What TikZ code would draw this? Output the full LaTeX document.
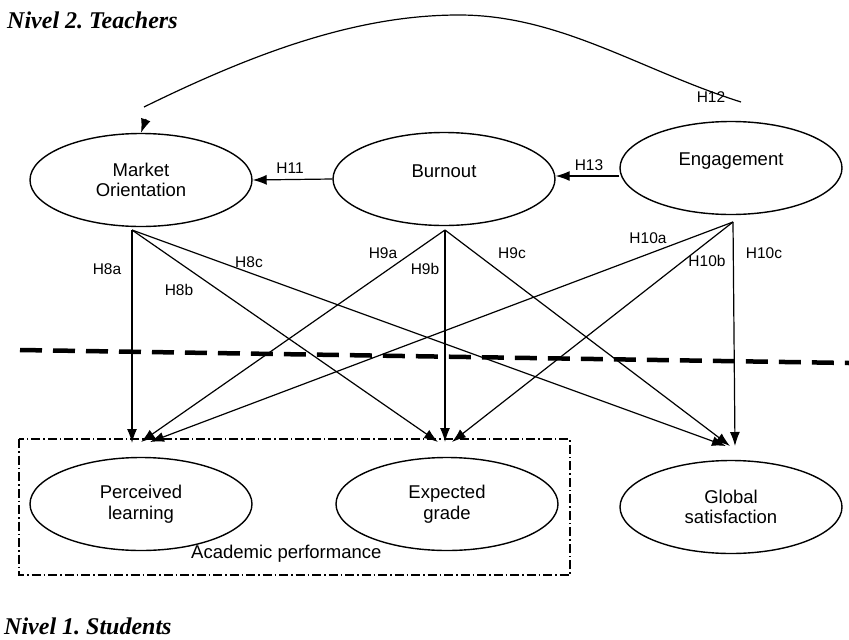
\documentclass[tikz,border=0pt]{standalone}
\usepackage{fontspec}
\setmainfont{Liberation Sans}
\newfontfamily\titlefont{Liberation Serif}
\usetikzlibrary{shapes.geometric,arrows.meta}
\frenchspacing
\begin{document}
\begin{tikzpicture}[x=1pt,y=-1pt,
  ell/.style={draw,ellipse,line width=1.4pt,minimum width=222pt,minimum height=93pt,inner sep=0pt},
  etext/.style={font=\fontsize{18.5}{20.5}\selectfont,align=center,inner sep=0pt},
  hlab/.style={font=\fontsize{15.5}{18}\selectfont,inner sep=0pt},
  conn/.style={line width=1.2pt},
  arr/.style={conn,-{Latex[length=14pt,width=10pt]}},
  ttl/.style={font=\titlefont\bfseries\itshape\fontsize{24}{27}\selectfont,anchor=base west,inner sep=0pt},
  levelline/.style={line width=4.5pt,dash pattern=on 22pt off 11pt},
  groupbox/.style={line width=1.1pt,dash pattern=on 9pt off 3pt on 1.5pt off 3pt}]
\useasboundingbox (0,0) rectangle (849,640);
\fill[white] (0,0) rectangle (849,640);

% titles
\node[ttl] (t2) at (7,28) {Nivel 2. Teachers};
\node[ttl] (t1) at (4,634) {Nivel 1. Students};

% teacher level constructs
\node[ell,etext] (MO) at (141,180) {Market\\Orientation};
\node[ell,label={[etext,yshift=8pt]center:Burnout}] (BO) at (444,179) {};
\node[ell,label={[etext,yshift=7pt]center:Engagement}] (EN) at (731,168) {};

% student level constructs
\node[ell,etext] (PL) at (141,504) {Perceived\\learning};
\node[ell,etext] (EG) at (447,504) {Expected\\grade};
\node[ell,etext] (GS) at (731,507) {Global\\satisfaction};

% group box
\draw[groupbox] (19,439) rectangle (570,575);
\node[etext,anchor=base west] (AP) at (191,558) {Academic performance};

% level separator
\coordinate (sepL) at (20,350);
\coordinate (sepR) at (849,363);
\draw[levelline] (sepL) -- (sepR);

% H11, H13
\draw[arr] (BO.west) -- (MO.east);
\node[hlab] (h11) at (290,168) {H11};
\draw[arr] ([yshift=-8pt]EN.west) -- ([yshift=3pt]BO.east);
\node[hlab] (h13) at (589,165) {H13};

% H12 curve
\coordinate (h12s) at (741,102);
\coordinate (h12p) at (459,15);
\coordinate (h12e) at (144,107);
\coordinate (h12a) at (146,119);
\draw[conn] (h12s) .. controls (640,70) and (560,15) .. (h12p)
  .. controls (360,15) and (260,50) .. (h12e);
\draw[arr] (h12a) -- (MO.north);
\node[hlab] (h12) at (711,97) {H12};

% origins and targets of cross-level paths
\coordinate (mo) at (132,230);
\coordinate (bo) at (445,230);
\coordinate (en) at (733,222);
\coordinate (pla) at (132,443);
\coordinate (plb) at (141,442);
\coordinate (plc) at (150,442);
\coordinate (ega) at (438,442);
\coordinate (egb) at (445,442);
\coordinate (egc) at (452,442);
\coordinate (gsa) at (726,446);
\coordinate (gsb) at (730,446);
\coordinate (gsc) at (735,446);

\draw[arr] (mo) -- (pla);
\draw[arr] (mo) -- (ega);
\draw[arr] (mo) -- (gsa);
\draw[arr] (bo) -- (plb);
\draw[arr] (bo) -- (egb);
\draw[arr] (bo) -- (gsb);
\draw[arr] (en) -- (plc);
\draw[arr] (en) -- (egc);
\draw[arr] (en) -- (gsc);

\node[hlab] (h8a) at (107,269) {H8a};
\node[hlab] (h8b) at (179,290) {H8b};
\node[hlab] (h8c) at (249,262) {H8c};
\node[hlab] (h9a) at (383,253) {H9a};
\node[hlab] (h9b) at (425,269) {H9b};
\node[hlab] (h9c) at (512,253) {H9c};
\node[hlab] (h10a) at (648,238) {H10a};
\node[hlab] (h10b) at (707,261) {H10b};
\node[hlab] (h10c) at (764,253) {H10c};
\end{tikzpicture}
\end{document}
